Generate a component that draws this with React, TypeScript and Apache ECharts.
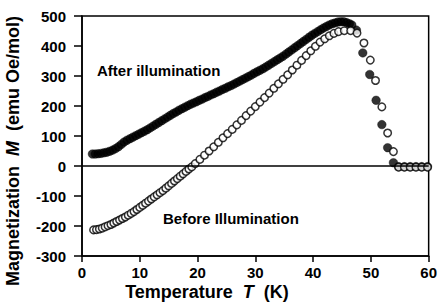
import React, { useEffect, useRef } from "react";
import * as echarts from "echarts";

// After illumination (filled circles): temperature (K) and magnetization (emu Oe/mol)
const tAfter = [
  1.8, 2.3, 2.8, 3.3, 3.8, 4.3, 4.8, 5.3, 5.8, 6.3, 6.8, 7.3, 7.8, 8.3, 8.8, 9.3, 9.8,
  10.3, 10.8, 11.3, 11.8, 12.3, 12.8, 13.3, 13.8, 14.3, 14.8, 15.3, 15.8, 16.3, 16.8,
  17.3, 17.8, 18.3, 18.8, 19.3, 19.8, 20.3, 20.8, 21.3, 21.8, 22.3, 22.8, 23.3, 23.8,
  24.3, 24.8, 25.3, 25.8, 26.3, 26.8, 27.3, 27.8, 28.3, 28.8, 29.3, 29.8, 30.3, 30.8,
  31.3, 31.8, 32.3, 32.8, 33.3, 33.8, 34.3, 34.8, 35.3, 35.8, 36.3, 36.8, 37.3, 37.8,
  38.3, 38.8, 39.3, 39.8, 40.3, 40.8, 41.3, 41.8, 42.3, 42.8, 43.3, 43.8, 44.3, 44.8,
  45.3, 45.8, 46.3, 46.7, 47.5, 48.6, 49.8, 50.9, 51.9, 52.9, 53.9, 54.8, 55.8, 56.8,
  57.8, 58.8, 59.8,
];
const mAfter = [
  40, 40, 41, 42, 44, 46, 49, 53, 58, 64, 72, 80, 86, 91, 96, 101, 106,
  111, 116, 121, 127, 133, 139, 145, 151, 157, 163, 169, 175, 180, 186,
  191, 196, 201, 206, 210, 214, 219, 223, 228, 232, 237, 241, 246, 250,
  255, 259, 264, 268, 273, 278, 283, 288, 293, 298, 303, 309, 314, 319,
  324, 330, 336, 342, 348, 354, 360, 366, 373, 380, 387, 394, 401, 408,
  415, 422, 429, 436, 442, 448, 454, 460, 465, 470, 474, 477, 480, 481,
  481, 478, 474, 470, 453, 377, 305, 219, 138, 61, 11, -2, -2, -2,
  -2, -2, -2,
];

// Before illumination (open circles)
const tBefore = [
  2.0, 2.5, 3.0, 3.5, 4.0, 4.5, 5.0, 5.5, 6.0, 6.5, 7.0, 7.5, 8.0, 8.5, 9.0, 9.5,
  10.0, 10.5, 11.0, 11.5, 12.0, 12.5, 13.0, 13.5, 14.0, 14.5, 15.0, 15.5, 16.0, 16.5,
  17.0, 17.5, 18.0, 18.5, 19.0, 19.6, 20.4, 21.2, 22.0, 22.8, 23.6, 24.4, 25.2, 26.0,
  26.8, 27.6, 28.4, 29.2, 30.0, 30.8, 31.6, 32.4, 33.2, 34.0, 34.8, 35.6, 36.4, 37.2,
  38.0, 38.8, 39.6, 40.4, 41.2, 42.0, 42.8, 43.6, 44.4, 45.4, 46.5, 47.6, 48.8, 49.9,
  50.8, 51.9, 52.9, 53.9, 54.8, 55.8, 56.8, 57.8, 58.8, 59.8,
];
const mBefore = [
  -213, -212, -210, -207, -203, -199, -195, -190, -185, -180, -175, -170, -164, -158, -152, -145,
  -138, -131, -124, -117, -110, -103, -96, -89, -82, -74, -66, -58, -50, -42,
  -34, -26, -18, -10, -3, 8, 22, 36, 50, 64, 79, 94, 108, 122,
  137, 152, 168, 183, 198, 213, 228, 243, 259, 274, 289, 304, 320, 336,
  352, 368, 384, 399, 413, 424, 434, 442, 448, 451, 451, 443, 410, 353,
  285, 197, 110, 48, -4, -4, -4, -4, -4, -4,
];

const xTicks = [0, 10, 20, 30, 40, 50, 60];
const yTicks = [-300, -200, -100, 0, 100, 200, 300, 400, 500];

const FONT = "'Liberation Sans', Arial, Helvetica, sans-serif";

export default function App() {
  const ref = useRef<HTMLDivElement>(null);

  useEffect(() => {
    if (!ref.current) return;
    const chart = echarts.init(ref.current, undefined, { renderer: "svg" });
    const after = tAfter.map((t, i) => [t, mAfter[i]]);
    const before = tBefore.map((t, i) => [t, mBefore[i]]);

    const nameRich = {
      a: { fontFamily: FONT, fontWeight: "bold", fontSize: 18, fill: "#000" },
      i: { fontFamily: FONT, fontWeight: "bold", fontStyle: "italic", fontSize: 18, fill: "#000" },
    };

    chart.setOption({
      animation: false,
      backgroundColor: "#fff",
      grid: {
        left: 82,
        right: 6,
        top: 16,
        bottom: 47,
        show: true,
        borderColor: "#000",
        borderWidth: 1.5,
        backgroundColor: "transparent",
        containLabel: false,
      },
      xAxis: {
        type: "value",
        min: xTicks[0],
        max: xTicks[xTicks.length - 1],
        interval: 10,
        axisLine: { show: true, onZero: false, lineStyle: { color: "#000", width: 1.5 } },
        axisTick: { show: true, length: 6, lineStyle: { color: "#000", width: 1.5 } },
        axisLabel: {
          color: "#000",
          fontFamily: FONT,
          fontWeight: "bold",
          fontSize: 15,
          margin: 9,
        },
        splitLine: { show: false },
      },
      yAxis: {
        type: "value",
        min: yTicks[0],
        max: yTicks[yTicks.length - 1],
        interval: 100,
        axisLine: { show: true, onZero: false, lineStyle: { color: "#000", width: 1.5 } },
        axisTick: { show: true, length: 8, lineStyle: { color: "#000", width: 1.5 } },
        axisLabel: {
          color: "#000",
          fontFamily: FONT,
          fontWeight: "bold",
          fontSize: 15,
          margin: 16,
        },
        splitLine: { show: false },
      },
      series: [
        {
          name: "After illumination",
          type: "scatter",
          data: after,
          symbol: "circle",
          symbolSize: 8.5,
          itemStyle: { color: "#000", borderColor: "#000", borderWidth: 0.5 },
          z: 2,
          markLine: {
            silent: true,
            symbol: "none",
            label: { show: false },
            lineStyle: { color: "#000", width: 1.5, type: "solid" },
            data: [{ yAxis: 0 }],
          },
        },
        {
          name: "Before illumination",
          type: "scatter",
          data: before,
          symbol: "circle",
          symbolSize: 7.5,
          itemStyle: { color: "#fff", borderColor: "#000", borderWidth: 1.5 },
          z: 3,
        },
      ],
      graphic: [
        {
          type: "text",
          x: 97,
          y: 70,
          style: {
            text: "After illumination",
            fill: "#000",
            fontFamily: FONT,
            fontWeight: "bold",
            fontSize: 15,
            align: "left",
            verticalAlign: "middle",
          },
        },
        {
          type: "text",
          x: 163,
          y: 218,
          style: {
            text: "Before Illumination",
            fill: "#000",
            fontFamily: FONT,
            fontWeight: "bold",
            fontSize: 15,
            align: "left",
            verticalAlign: "middle",
          },
        },
        {
          type: "text",
          x: 207,
          y: 292,
          style: {
            text: "{a|Temperature  }{i|T}{a|  (K)}",
            align: "center",
            verticalAlign: "middle",
            rich: nameRich,
          },
        },
        {
          type: "text",
          x: 13,
          y: 151,
          rotation: Math.PI / 2,
          style: {
            text: "{a|Magnetization  }{i|M}{a|  (emu Oe/mol)}",
            align: "center",
            verticalAlign: "middle",
            rich: nameRich,
          },
        },
      ],
    });
    return () => chart.dispose();
  }, []);

  return (
    <div
      ref={ref}
      style={{ position: "fixed", left: 0, top: 0, width: 440, height: 303, background: "#fff" }}
    />
  );
}
